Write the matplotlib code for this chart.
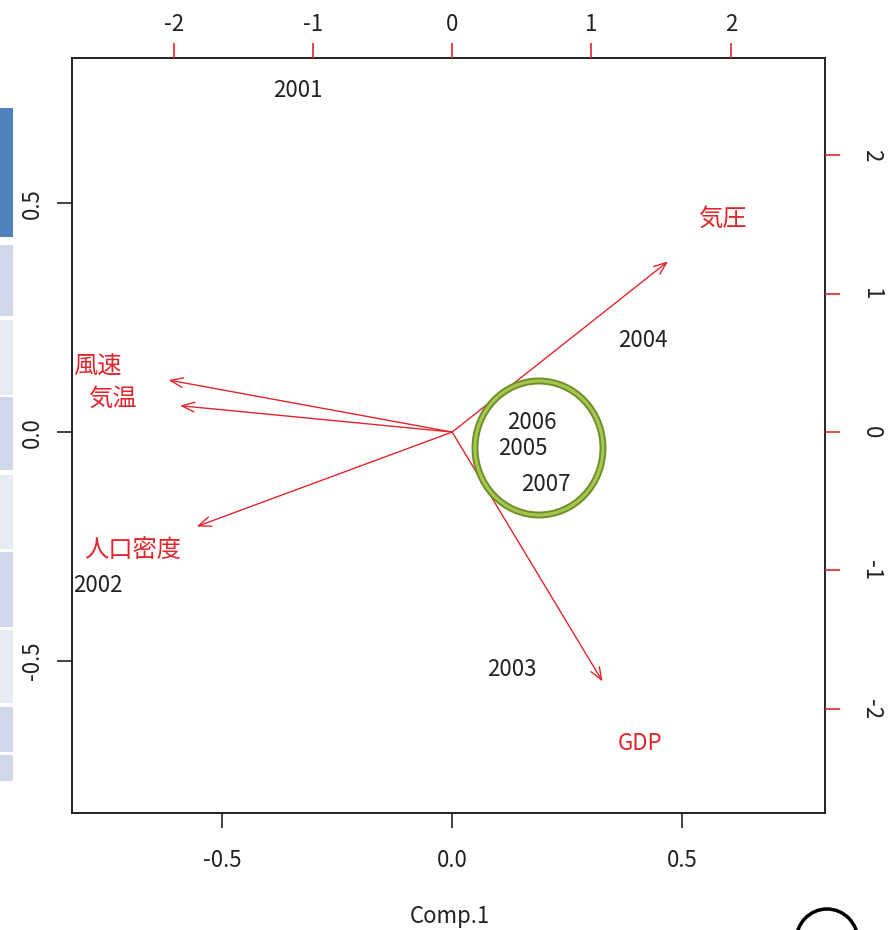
import numpy as np
import matplotlib
matplotlib.use('Agg')
import matplotlib.pyplot as plt
from matplotlib.patches import Ellipse, Rectangle

plt.rcParams['font.family'] = ['Noto Sans CJK JP', 'DejaVu Sans']
plt.rcParams['axes.unicode_minus'] = False

# scores (top / right axes)
years = ['2001', '2002', '2003', '2004', '2005', '2006', '2007']
score_x = [-1.11, -2.54, 0.43, 1.37, 0.51, 0.57, 0.67]
score_y = [2.47, -1.11, -1.72, 0.66, -0.12, 0.07, -0.38]

# loadings (bottom / left axes), labels sit at the loading, arrows at 0.8x
variables = ['気圧', '風速', '気温', '人口密度', 'GDP']
load_x = [0.587, -0.771, -0.740, -0.695, 0.409]
load_y = [0.466, 0.142, 0.072, -0.258, -0.681]

xlim = (-0.827, 0.811)
ylim = (-0.832, 0.817)
top_scale = 3.30
right_scale = 3.31

red = '#e0262c'
W, H = 890, 930

fig = plt.figure(figsize=(8.9, 9.3), dpi=100)
ax = fig.add_axes([72 / W, 1 - 813 / H, (825 - 72) / W, (813 - 58) / H])
ax.set_xlim(xlim)
ax.set_ylim(ylim)

for nm, lx, ly in zip(variables, load_x, load_y):
    ax.annotate('', xy=(0.8 * lx, 0.8 * ly), xytext=(0, 0),
                arrowprops=dict(arrowstyle='->,head_length=0.9,head_width=0.35',
                                color=red, lw=1.0, shrinkA=0, shrinkB=0))
    ax.text(lx, ly, nm, color=red, fontsize=17.5 if nm != 'GDP' else 16,
            ha='center', va='center')

ax.set_xticks([-0.5, 0.0, 0.5])
ax.set_xticklabels(['-0.5', '0.0', '0.5'])
ax.set_yticks([-0.5, 0.0, 0.5])
ax.set_yticklabels(['-0.5', '0.0', '0.5'], rotation=90, va='center')
ax.tick_params(axis='x', direction='out', length=11, width=1.2, pad=15,
               labelsize=16, colors='#222222')
ax.tick_params(axis='y', direction='out', length=11, width=1.2, pad=9,
               labelsize=16, colors='#222222')
for s in ax.spines.values():
    s.set_linewidth(1.4)
    s.set_color('#222222')

# top axis for scores
axt = ax.twiny()
axt.set_xlim(xlim[0] * top_scale, xlim[1] * top_scale)
axt.set_xticks([-2, -1, 0, 1, 2])
axt.tick_params(axis='x', direction='out', length=11, width=1.2, pad=5,
                labelsize=16, color=red, labelcolor='#222222')

# right axis for scores
axr = ax.twinx()
axr.set_ylim(ylim[0] * right_scale, ylim[1] * right_scale)
axr.set_yticks([-2, -1, 0, 1, 2])
axr.set_yticklabels(['-2', '-1', '0', '1', '2'], rotation=270, va='center')
axr.tick_params(axis='y', direction='out', length=11, width=1.2, pad=14,
                labelsize=16, color=red, labelcolor='#222222')
for a in (axt, axr):
    for s in a.spines.values():
        s.set_visible(False)

# observation labels, drawn in the score coordinates
axs = fig.add_axes(ax.get_position(), frameon=False)
axs.set_xlim(xlim[0] * top_scale, xlim[1] * top_scale)
axs.set_ylim(ylim[0] * right_scale, ylim[1] * right_scale)
axs.set_xticks([])
axs.set_yticks([])
for yr, sx, sy in zip(years, score_x, score_y):
    axs.text(sx, sy, yr, fontsize=16, ha='center', va='center', color='#222222')

fig.text(450 / W, 1 - 916 / H, 'Comp.1', fontsize=16, ha='center', va='center',
         color='#222222')

# green highlight ring
ring = dict(transform=fig.transFigure, fill=False)
fig.patches.append(Ellipse((539 / W, 1 - 448 / H), 128 / W, 134 / H,
                           ec='#6f8f28', lw=5, **ring))
fig.patches.append(Ellipse((539 / W, 1 - 448 / H), 128 / W, 134 / H,
                           ec='#a6c652', lw=2.2, **ring))

# black circle peeking in at bottom right
fig.patches.append(Ellipse((827 / W, 1 - 941 / H), 62 / W, 64 / H,
                           ec='black', lw=2.5, **ring))

# side panel strips on the left edge
strips = [(108, 237, '#4f81bd'), (245, 316, '#cfd7e8'), (320, 395, '#e7ebf4'),
          (397, 470, '#cfd7e8'), (475, 549, '#e7ebf4'), (552, 627, '#cfd7e8'),
          (630, 703, '#e7ebf4'), (707, 752, '#cfd7e8'), (755, 781, '#cfd7e8')]
for y0, y1, c in strips:
    fig.patches.append(Rectangle((0, 1 - y1 / H), 13 / W, (y1 - y0) / H,
                                 transform=fig.transFigure, fc=c, ec='none'))

fig.savefig('out.png', dpi=100)
